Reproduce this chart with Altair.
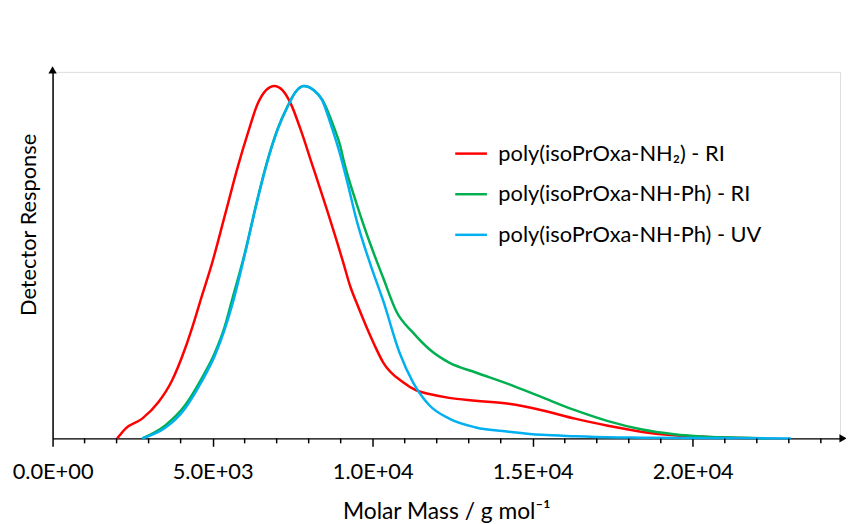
import altair as alt
import pandas as pd

# Series names (legend labels)
names = [
    "poly(isoPrOxa-NH₂) - RI",
    "poly(isoPrOxa-NH-Ph) - RI",
    "poly(isoPrOxa-NH-Ph) - UV",
]
colors = ["#FF0000", "#00B050", "#00B0F0"]

# Molar mass (g/mol) and normalised detector response
red_x = [2020, 2280, 2800, 3310, 3720, 4140, 4450, 4650, 4960, 5380, 5790, 6100,
         6410, 6670, 6930, 7180, 7440, 7750, 8110, 8580, 9090, 9300, 9500, 10020,
         10330, 10950, 11360, 11770, 12390, 13220, 14250, 15280, 16320, 17350,
         18380, 19410, 20440, 21480, 22000]
red_y = [0.0, 0.028, 0.056, 0.103, 0.162, 0.255, 0.340, 0.400, 0.490, 0.632, 0.772, 0.866,
         0.950, 0.988, 1.0, 0.988, 0.950, 0.876, 0.777, 0.646, 0.496, 0.431, 0.384, 0.272,
         0.215, 0.159, 0.136, 0.126, 0.115, 0.107, 0.098, 0.080, 0.056, 0.036,
         0.019, 0.009, 0.004, 0.001, 0.0]

green_x = [2800, 3520, 4140, 4650, 5070, 5380, 5580, 6000, 6410, 6670, 7030, 7340,
           7590, 7850, 8160, 8420, 8780, 8990, 9090, 9500, 9920, 10330, 10740, 11260,
           11770, 12390, 13220, 14250, 15280, 16320, 17350, 18380, 19410, 20440,
           21480, 22300]
green_y = [0.0, 0.037, 0.094, 0.169, 0.243, 0.318, 0.384, 0.524, 0.683, 0.775, 0.878, 0.942,
           0.983, 1.0, 0.988, 0.962, 0.885, 0.829, 0.790, 0.665, 0.553, 0.455, 0.360, 0.300,
           0.253, 0.215, 0.187, 0.154, 0.117, 0.080, 0.049, 0.026, 0.012, 0.005,
           0.002, 0.0]

blue_x = [2800, 3520, 4140, 4650, 5070, 5380, 5630, 6000, 6410, 6670, 7030, 7340,
          7590, 7850, 8160, 8420, 8680, 8940, 9200, 9500, 9920, 10330, 10840, 11260,
          11770, 12390, 13220, 14250, 15280, 16320, 17350, 18380, 20000, 23070]
blue_y = [0.0, 0.030, 0.085, 0.160, 0.235, 0.310, 0.385, 0.520, 0.680, 0.772, 0.876, 0.941,
          0.983, 1.0, 0.988, 0.960, 0.894, 0.819, 0.730, 0.618, 0.496, 0.390, 0.243, 0.159,
          0.094, 0.056, 0.031, 0.019, 0.010, 0.006, 0.003, 0.002, 0.001, 0.0]

# Axis ticks and labels
major_ticks = [0, 5000, 10000, 15000, 20000]
major_labels = ["0.0E+00", "5.0E+03", "1.0E+04", "1.5E+04", "2.0E+04"]
minor_ticks = [v for v in range(0, 25000, 1000) if v not in major_ticks]
x_max = 24600
y_max = 1.04

rows = []
for name, xs, ys in zip(names, [red_x, green_x, blue_x], [red_y, green_y, blue_y]):
    for i, (a, b) in enumerate(zip(xs, ys)):
        rows.append({"series": name, "mass": a, "resp": b, "order": i})
df = pd.DataFrame(rows)

label_expr = "".join(
    f"datum.value === {v} ? '{t}' : " for v, t in zip(major_ticks, major_labels)
) + "''"

FONT = "Lato"
PLOT_H = 370

xscale = alt.Scale(domain=[0, x_max], nice=False, zero=False)
yscale = alt.Scale(domain=[0, y_max], nice=False)

lines = alt.Chart(df).mark_line(strokeWidth=2.5, interpolate="monotone").encode(
    x=alt.X("mass:Q", scale=xscale,
            axis=alt.Axis(
                title="Molar Mass / g mol⁻¹",
                values=major_ticks,
                labelExpr=label_expr,
                tickSize=8,
                tickColor="black", tickWidth=1.5,
                domainColor="black", domainWidth=1.5,
                labelFont=FONT, labelFontSize=22, labelColor="black",
                labelPadding=15, labelOverlap=False, labelFlush=False,
                titleFont=FONT, titleFontSize=23, titleFontWeight="normal",
                titleColor="black", titlePadding=19,
                grid=False)),
    y=alt.Y("resp:Q", scale=yscale,
            axis=alt.Axis(
                title="Detector Response", labels=False, ticks=False,
                domainColor="black", domainWidth=1.5,
                titleFont=FONT, titleFontSize=22, titleFontWeight="normal",
                titleColor="black", titlePadding=12, titleY=154,
                titleAlign="center", grid=False)),
    color=alt.Color("series:N",
                    scale=alt.Scale(domain=names, range=colors),
                    sort=names,
                    legend=alt.Legend(
                        title=None, orient="none", legendX=405, legendY=65,
                        symbolType="stroke", symbolSize=1024, symbolStrokeWidth=2.5,
                        labelFont=FONT, labelFontSize=22, labelColor="black",
                        labelOffset=10, rowPadding=12, padding=0,
                        labelLimit=400)),
    order="order:Q",
)

minor = alt.Chart(pd.DataFrame({"mass": minor_ticks})).mark_rule(
    color="black", strokeWidth=1.5
).encode(
    x=alt.X("mass:Q", scale=xscale),
    y=alt.value(PLOT_H),
    y2=alt.value(PLOT_H + 5),
)

arrow_x = alt.Chart(pd.DataFrame({"mass": [x_max], "resp": [0]})).mark_point(
    shape="triangle-right", filled=True, color="black", size=70, opacity=1, xOffset=3
).encode(x=alt.X("mass:Q", scale=xscale), y=alt.Y("resp:Q", scale=yscale))

arrow_y = alt.Chart(pd.DataFrame({"mass": [0], "resp": [y_max]})).mark_point(
    shape="triangle-up", filled=True, color="black", size=70, opacity=1, yOffset=-2
).encode(x=alt.X("mass:Q", scale=xscale), y=alt.Y("resp:Q", scale=yscale))

chart = alt.layer(lines, minor, arrow_x, arrow_y).properties(
    width=795, height=PLOT_H,
    autosize=alt.AutoSizeParams(type="none"),
    padding={"left": 45, "top": 62, "right": 6, "bottom": 90},
).configure_view(stroke=None).configure(background="white")

chart.save("out.html", embed_options={"renderer": "svg", "actions": False})
